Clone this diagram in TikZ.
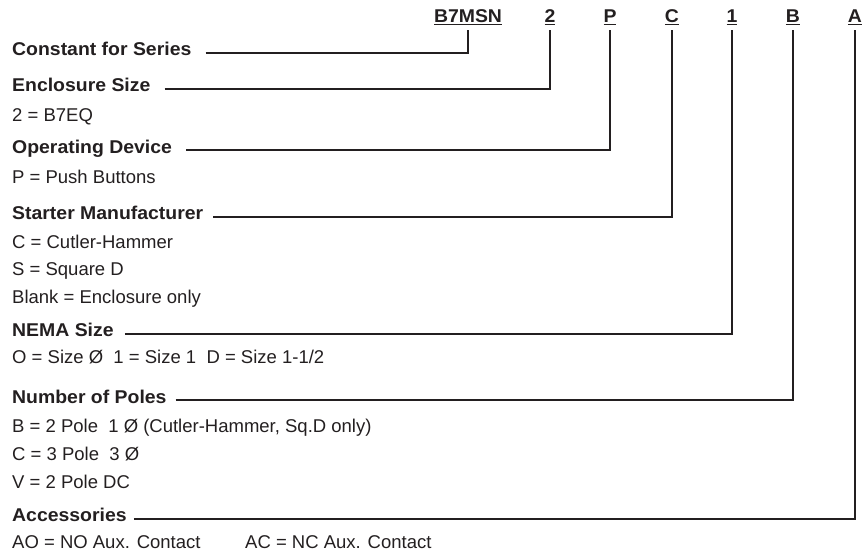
\documentclass[tikz,border=0pt]{standalone}
\usepackage{fontspec}
\setmainfont{Liberation Sans}[BoldFeatures={FakeStretch=1.05}]
\definecolor{ink}{RGB}{35,31,32}
\newsavebox\ulbox
\newcommand\ulcode[1]{\sbox\ulbox{#1}\rlap{\rule[-3.3pt]{\wd\ulbox}{1.6pt}}\usebox\ulbox}
\begin{document}
\begin{tikzpicture}[x=1pt,y=-1pt,
  head/.style={anchor=base west, inner sep=0pt, font=\fontsize{18.5}{20}\selectfont\bfseries, text=ink},
  desc/.style={anchor=base west, inner sep=0pt, font=\fontsize{18.5}{20}\selectfont, text=ink},
  code/.style={anchor=base, inner sep=0pt, font=\fontsize{18.5}{20}\selectfont\bfseries, text=ink},
  conn/.style={draw=ink, line width=1.8pt}]
\useasboundingbox (0,0) rectangle (865,557);
% codes
\node[code] (cB7) at (468,22) {\ulcode{B7MSN}};
\node[code] (c2) at (550,22) {\ulcode{2}};
\node[code] (cP) at (610,22) {\ulcode{P}};
\node[code] (cC) at (672,22) {\ulcode{C}};
\node[code] (c1) at (732,22) {\ulcode{1}};
\node[code] (cB) at (793,22) {\ulcode{B}};
\node[code] (cA) at (855,22) {\ulcode{A}};
% labels
\node[head] (h1) at (12,55.7) {Constant for Series};
\node[head] (h2) at (12,91.5) {Enclosure Size};
\node[desc] (d2) at (12,121.7) {2 = B7EQ};
\node[head] (h3) at (12,153) {Operating Device};
\node[desc] (d3) at (12,183) {P = Push Buttons};
\node[head] (h4) at (12,219.3) {Starter Manufacturer};
\node[desc] (d4a) at (12,248.3) {C = Cutler-Hammer};
\node[desc] (d4b) at (12,275.5) {S = Square D};
\node[desc] (d4c) at (12,303) {Blank = Enclosure only};
\node[head] (h5) at (12,336.7) {NEMA Size};
\node[desc] (d5) at (12,363.3) {O = Size Ø\ \ 1 = Size 1\ \ D = Size 1-1/2};
\node[head] (h6) at (12,403) {Number of Poles};
\node[desc] (d6a) at (12,432) {B = 2 Pole\ \ 1 Ø (Cutler-Hammer, Sq.D only)};
\node[desc] (d6b) at (12,460) {C = 3 Pole\ \ 3 Ø};
\node[desc] (d6c) at (12,488) {V = 2 Pole DC};
\node[head] (h7) at (12,521.7) {Accessories};
\node[desc] (d7a) at (12,548) {AO = NO Aux. Contact};
\node[desc] (d7b) at (245,548) {AC = NC Aux. Contact};
% connectors
\draw[conn] ([xshift=14pt]h1.mid east) -| ([yshift=-4.7pt]cB7.south);
\draw[conn] ([xshift=14pt]h2.mid east) -| ([yshift=-4.7pt]c2.south);
\draw[conn] ([xshift=14pt]h3.mid east) -| ([yshift=-4.7pt]cP.south);
\draw[conn] ([xshift=10pt]h4.mid east) -| ([yshift=-4.7pt]cC.south);
\draw[conn] ([xshift=11pt]h5.mid east) -| ([yshift=-4.7pt]c1.south);
\draw[conn] ([xshift=9pt]h6.mid east) -| ([yshift=-4.7pt]cB.south);
\draw[conn] ([xshift=7pt]h7.mid east) -| ([yshift=-4.7pt]cA.south);
\end{tikzpicture}
\end{document}
